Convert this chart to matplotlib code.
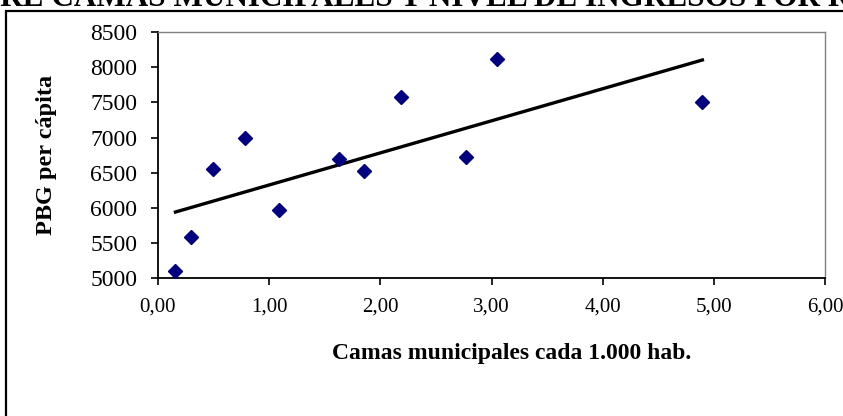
import numpy as np
import matplotlib
matplotlib.use("Agg")
import matplotlib.pyplot as plt
from matplotlib.patches import Rectangle
from matplotlib.ticker import FuncFormatter

# camas municipales cada 1.000 hab. vs PBG per cápita
camas = [0.157, 0.30, 0.495, 0.784, 1.086, 1.632, 1.849, 2.19, 2.775, 3.045, 4.897]
pbg = [5100, 5580, 6550, 7000, 5970, 6700, 6520, 7570, 6720, 8110, 7510]

titulo = "RELACIÓN ENTRE CAMAS MUNICIPALES Y NIVEL DE INGRESOS POR REGIÓN"
x_ticks = [0, 1, 2, 3, 4, 5, 6]
y_ticks = [5000, 5500, 6000, 6500, 7000, 7500, 8000, 8500]

plt.rcParams["font.family"] = ["Liberation Serif", "DejaVu Serif"]

W, H = 843, 416
fig = plt.figure(figsize=(W / 100, H / 100), dpi=100)
fig.patch.set_facecolor("white")

# marco del gráfico (se sale por la derecha y por abajo)
fig.patches.append(Rectangle((6 / W, -0.2), 2.0, 1.2 - 11 / H,
                             transform=fig.transFigure, fill=False,
                             edgecolor="black", linewidth=1.6))

# título recortado arriba: se alinea para que "RE CAMAS" empiece en x=0
r = fig.canvas.get_renderer()
prefijo = fig.text(0, 0, "RELACIÓN ENT", fontsize=22.5, fontweight="bold")
ancho = prefijo.get_window_extent(r).width
prefijo.remove()
fig.text(-ancho / W, 1 - 5.5 / H, titulo, fontsize=22.5, fontweight="bold",
         ha="left", va="baseline")

ax = fig.add_axes([158 / W, 1 - 278.3 / H, (825 - 158) / W, (278.3 - 32) / H])
ax.set_xlim(0, 6)
ax.set_ylim(5000, 8500)
ax.set_xticks(x_ticks)
ax.set_yticks(y_ticks)
ax.xaxis.set_major_formatter(FuncFormatter(lambda v, p: f"{v:.2f}".replace(".", ",")))
ax.tick_params(axis="both", direction="out", length=5, width=1.2, color="black")
ax.tick_params(axis="y", labelsize=17, pad=10)
ax.tick_params(axis="x", labelsize=15, pad=9)

for s in ("left", "bottom"):
    ax.spines[s].set_color("black")
    ax.spines[s].set_linewidth(1.3)
for s in ("top", "right"):
    ax.spines[s].set_color("#808080")
    ax.spines[s].set_linewidth(1.0)

ax.plot(camas, pbg, linestyle="none", marker="D", markersize=7.2,
        color="#000080", zorder=3, clip_on=False)

# recta de tendencia lineal
m, b = np.polyfit(camas, pbg, 1)
xs = np.array([min(camas), max(camas)])
ax.plot(xs, m * xs + b, color="black", linewidth=2.4, zorder=2)

ax.set_ylabel("PBG per cápita", fontsize=17.5, fontweight="bold")
ax.yaxis.set_label_coords((47 - 158) / (825 - 158), 0.5)
ax.yaxis.label.set_va("center")
fig.text(512 / W, 1 - 353 / H, "Camas municipales cada 1.000 hab.",
         fontsize=17, fontweight="bold", ha="center", va="center")

fig.savefig("out.png", dpi=100)
